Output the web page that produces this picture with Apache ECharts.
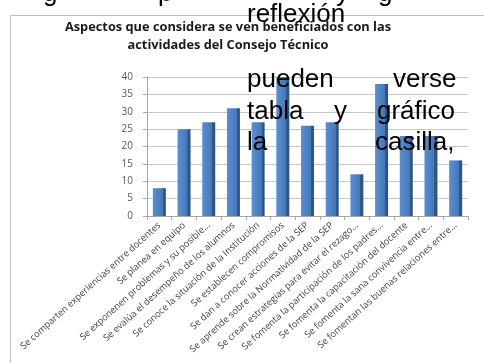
<!DOCTYPE html>
<html>
<head>
<meta charset="utf-8">
<script src="https://cdn.jsdelivr.net/npm/echarts@6/dist/echarts.min.js"></script>
<style>
html,body{margin:0;padding:0;background:#fff;}
#chart{width:484px;height:363px;}
</style>
</head>
<body>
<div id="chart"></div>
<script>
var categories = [
  'Se comparten experiencias entre docentes',
  'Se planea en equipo',
  'Se exponenen problemas y su posible...',
  'Se evalúa el desempeño de los alumnos',
  'Se conoce la situación de la Institución',
  'Se establecen compromisos',
  'Se dan a conocer acciones de la SEP',
  'Se aprende sobre la Normatividad de la SEP',
  'Se crean estrategias para evitar el rezago...',
  'Se fomenta la participación de los padres...',
  'Se fomenta la capacitación del docente',
  'Se fomenta la sana convivencia entre...',
  'Se fomentan las buenas relaciones entre...'
];
var values = [8, 25, 27, 31, 27, 40, 26, 27, 12, 38, 23, 23, 16];
var titleLines = ['Aspectos que considera se ven beneficiados con las', 'actividades del Consejo Técnico'];
var overlayWords = [
  {t: 'g', x: 43, y: -19}, {t: 'p', x: 158, y: -19}, {t: 'y', x: 336, y: -19}, {t: 'g', x: 378, y: -19},
  {t: 'reflexión', x: 247, y: 2},
  {t: 'pueden', x: 247, y: 67}, {t: 'verse', x: 393, y: 67},
  {t: 'tabla', x: 247, y: 98.5}, {t: 'y', x: 334, y: 98.5}, {t: 'gráfico', x: 377, y: 98.5},
  {t: 'la', x: 247, y: 130}, {t: 'casilla,', x: 375, y: 130}
];

var chart = echarts.init(document.getElementById('chart'), null, {renderer: 'canvas'});

var graphics = [{
  type: 'rect', z: -10, silent: true,
  shape: {x: 10.5, y: 15.5, width: 490, height: 400},
  style: {fill: 'none', stroke: '#bfbfbf', lineWidth: 1}
}];
overlayWords.forEach(function (w) {
  graphics.push({
    type: 'text', z: 100, silent: true,
    x: w.x, y: w.y,
    style: {
      text: w.t, fill: '#000',
      font: '26px "Liberation Sans", Arial, sans-serif',
      textAlign: 'left', verticalAlign: 'top'
    }
  });
});

chart.setOption({
  animation: false,
  title: {
    text: titleLines.join('\n'),
    left: 223, top: 13, textAlign: 'center',
    textStyle: {
      fontFamily: '"Open Sans", "Liberation Sans", sans-serif',
      fontWeight: 'bold', fontSize: 12.8, color: '#1a1a1a', lineHeight: 18
    }
  },
  grid: {left: 147, right: 16, top: 77, bottom: 147, containLabel: false},
  xAxis: {
    type: 'category',
    data: categories,
    axisLine: {lineStyle: {color: '#a6a6a6'}},
    axisTick: {show: true, alignWithLabel: false, length: 4, lineStyle: {color: '#a6a6a6'}},
    axisLabel: {
      interval: 0, rotate: 42, margin: 8,
      fontSize: 9.3, color: '#404040',
      fontFamily: '"Open Sans", "Liberation Sans", sans-serif'
    }
  },
  yAxis: {
    type: 'value', min: 0, max: 40, interval: 5,
    axisLine: {show: true, lineStyle: {color: '#a6a6a6'}},
    axisTick: {show: true, length: 4, lineStyle: {color: '#a6a6a6'}},
    axisLabel: {fontSize: 10, color: '#595959', margin: 14,
      fontFamily: '"Open Sans", "Liberation Sans", sans-serif'},
    splitLine: {lineStyle: {color: '#c8c8c8', width: 1}}
  },
  series: [{
    type: 'bar',
    data: values,
    barWidth: 13,
    itemStyle: {
      color: {
        type: 'linear', x: 0, y: 0, x2: 1, y2: 0,
        colorStops: [
          {offset: 0, color: '#5a8fd0'},
          {offset: 0.5, color: '#4c80c0'},
          {offset: 0.76, color: '#4677b6'},
          {offset: 0.77, color: '#30598c'},
          {offset: 1, color: '#2b5283'}
        ]
      }
    }
  }],
  graphic: graphics
});
</script>
</body>
</html>
